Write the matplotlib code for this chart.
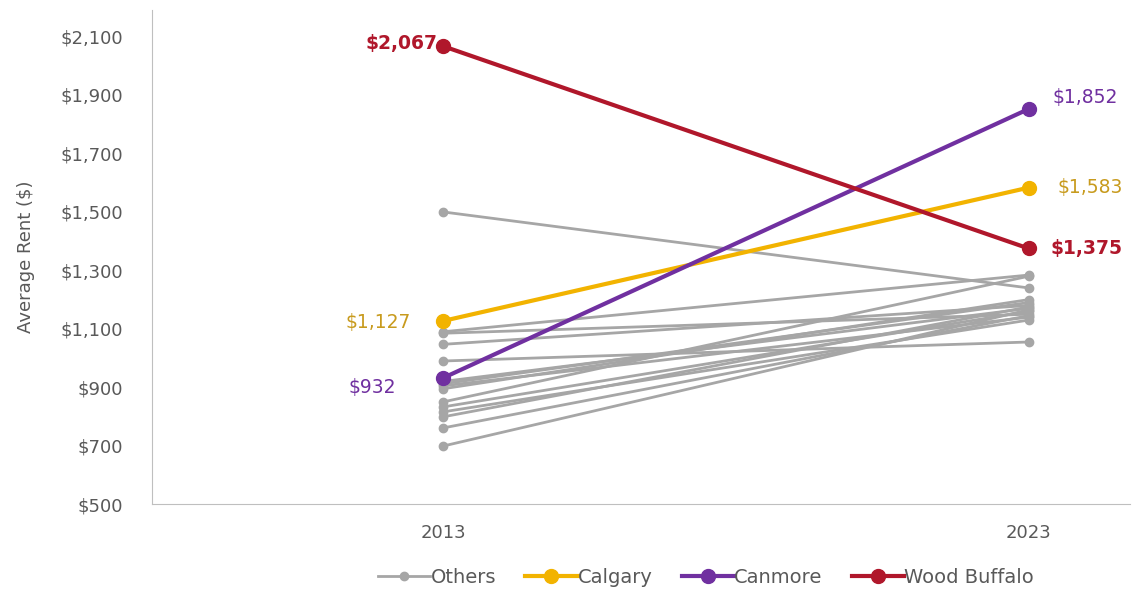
import matplotlib.pyplot as plt
import matplotlib as mpl

mpl.rcParams['font.family'] = ['DejaVu Sans']

years = ['2013', '2023']
others_2013 = [1500, 1090, 1085, 1047, 990, 920, 912, 905, 895, 850, 833, 816, 799, 761, 699]
others_2023 = [1240, 1284, 1150, 1180, 1055, 1170, 1190, 1140, 1200, 1280, 1160, 1130, 1175, 1145, 1165]
calgary = [1127, 1583]
canmore = [932, 1852]
wood_buffalo = [2067, 1375]

c_gray = '#A6A6A6'
c_cal = '#F2B300'
c_can = '#7030A0'
c_wb = '#B0172B'

fig = plt.figure(figsize=(11.35, 6.01), dpi=100)
ax = fig.add_axes([0.134, 0.161, 0.862, 0.822])
x = [0, 1]

for a, b in zip(others_2013, others_2023):
    ax.plot(x, [a, b], color=c_gray, lw=2, marker='o', ms=6, zorder=2)
ax.plot([], [], color=c_gray, lw=2, marker='o', ms=6, label='Others')
ax.plot(x, calgary, color=c_cal, lw=3, marker='o', ms=10, zorder=3, label='Calgary')
ax.plot(x, canmore, color=c_can, lw=3, marker='o', ms=10, zorder=4, label='Canmore')
ax.plot(x, wood_buffalo, color=c_wb, lw=3, marker='o', ms=10, zorder=5, label='Wood Buffalo')

def lab(xi, v, dx, dy, color, bold=False, ha='left'):
    ax.annotate('${:,}'.format(v), (xi, v), xytext=(dx, dy), textcoords='offset points',
                ha=ha, va='center', color=color, fontsize=13.5,
                fontweight='bold' if bold else 'normal')

lab(0, wood_buffalo[0], -4, 2, c_wb, True, 'right')
lab(1, wood_buffalo[1], 16, 0, c_wb, True)
lab(1, canmore[1], 17, 8, c_can)
lab(0, canmore[0], -34, -7, c_can, ha='right')
lab(1, calgary[1], 21, 0, '#C89B1E')
lab(0, calgary[0], -23, -1, '#C89B1E', ha='right')

ax.set_xlim(-0.497, 1.174)
ax.set_ylim(500, 2190)
ax.set_xticks(x)
ax.set_xticklabels(years)
ax.set_yticks(range(500, 2101, 200))
ax.set_yticklabels(['${:,}'.format(v) for v in range(500, 2101, 200)])
ax.tick_params(length=0, labelsize=13, colors='#595959')
ax.tick_params(axis='y', pad=21)
ax.tick_params(axis='x', pad=14)
ax.set_ylabel('Average Rent ($)', fontsize=13, color='#595959', labelpad=18)
for s in ['top', 'right']:
    ax.spines[s].set_visible(False)
for s in ['left', 'bottom']:
    ax.spines[s].set_color('#BFBFBF')

leg = fig.legend(loc='lower center', bbox_to_anchor=(0.622, -0.005), ncol=4, frameon=False,
                 fontsize=14, handlelength=2.7, handletextpad=0.0, columnspacing=1.5)
for t in leg.get_texts():
    t.set_color('#595959')

fig.savefig('out.png', dpi=100)
